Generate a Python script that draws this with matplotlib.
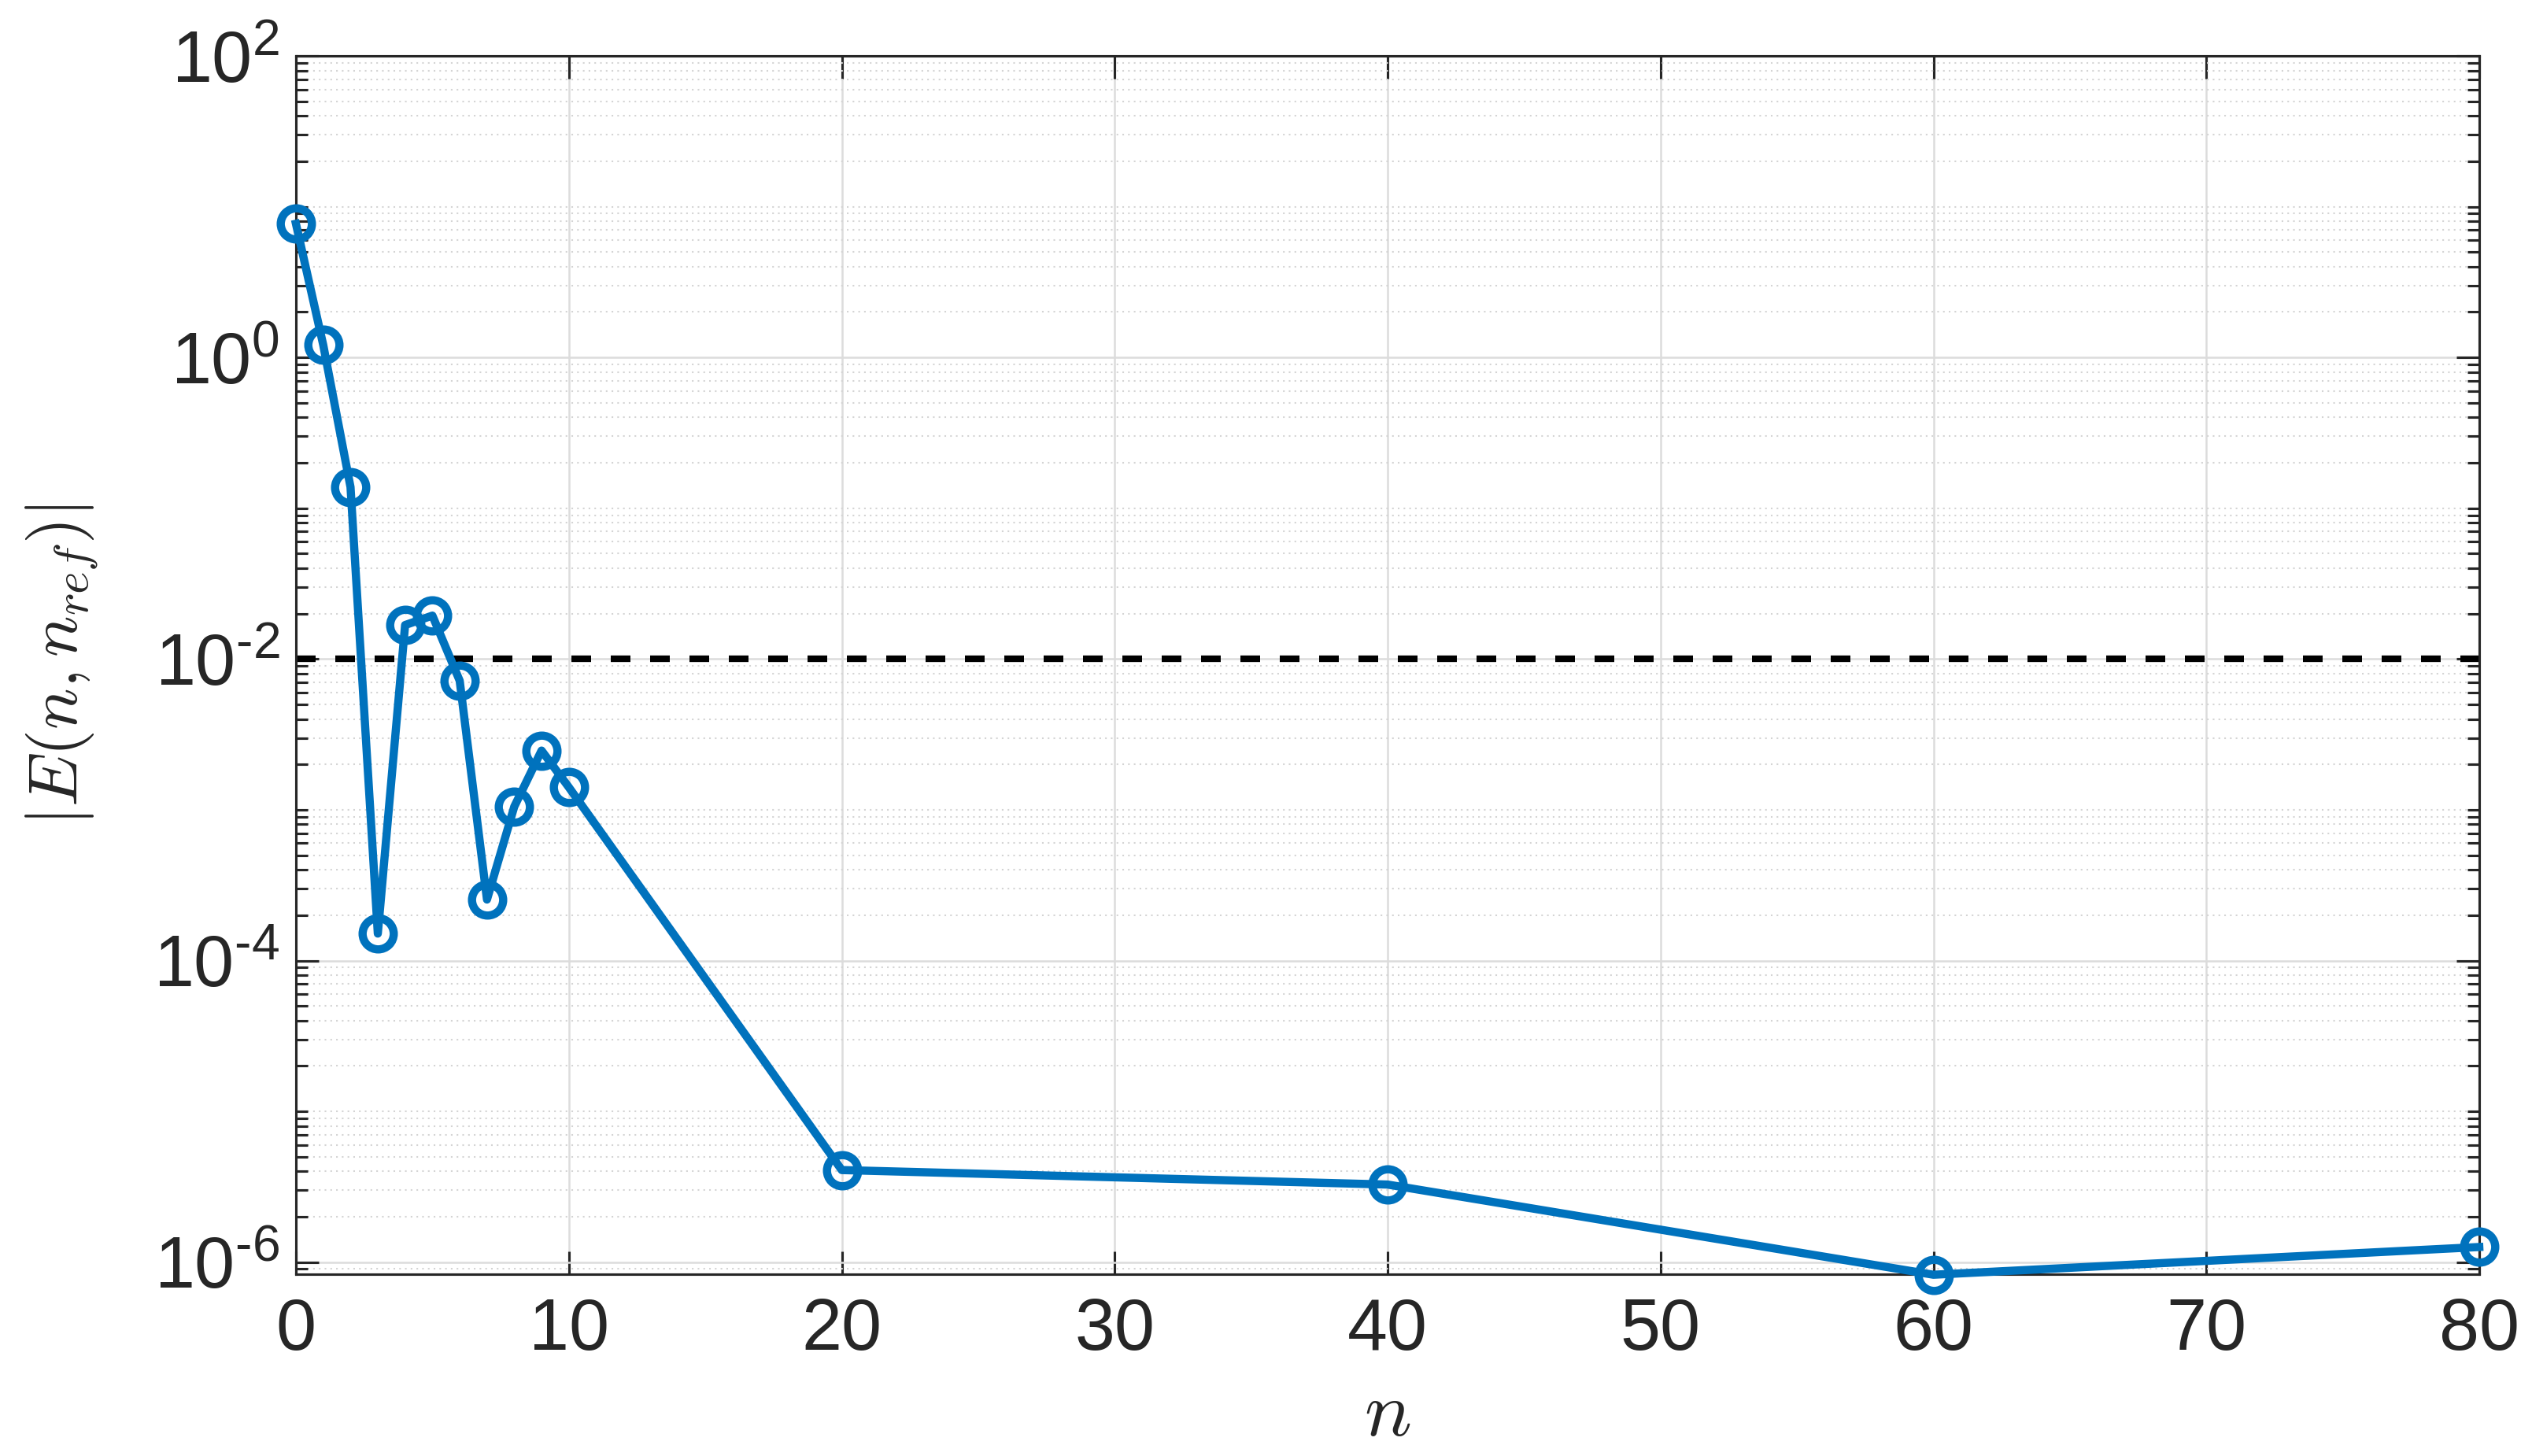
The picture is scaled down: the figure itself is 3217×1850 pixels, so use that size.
import matplotlib
matplotlib.use("Agg")
import matplotlib.pyplot as plt
from matplotlib.ticker import FixedLocator, FuncFormatter, NullLocator
import numpy as np

# Error vs. n
n_values = [0, 1, 2, 3, 4, 5, 6, 7, 8, 9, 10, 20, 40, 60, 80]
err_values = [7.7, 1.21, 0.138, 1.51e-4, 0.0168, 0.0194, 0.00718, 2.54e-4,
              1.05e-3, 2.47e-3, 1.41e-3, 4.08e-6, 3.27e-6, 8.25e-7, 1.26e-6]
tolerance = 1e-2
x_ticks = [0, 10, 20, 30, 40, 50, 60, 70, 80]
y_major_exps = [-6, -4, -2, 0, 2]

plt.rcParams["font.family"] = ["Liberation Sans", "DejaVu Sans"]
plt.rcParams["mathtext.fontset"] = "custom"
plt.rcParams["mathtext.rm"] = "Liberation Sans"
plt.rcParams["mathtext.it"] = "Liberation Sans:italic"


def exp_label(v, pos):
    e = round(np.log10(v))
    # MATLAB prints a short hyphen, not a long minus sign
    s = str(e).replace("-", "\u2010")
    return r"$\mathrm{10^{%s}}$" % s


W, H = 3217, 1850
fig = plt.figure(figsize=(W / 300, H / 300), dpi=300)
ax = fig.add_axes([376 / W, (H - 1619) / H, (3150 - 376) / W, (1619 - 71) / H])

blue = "#0072BD"
axcol = "#262626"

ax.plot(n_values, err_values, "-o", color=blue, lw=2.5, ms=9.5, mew=2.5,
        mfc="none", zorder=3, clip_on=False)
ax.axhline(tolerance, color="black", lw=2.0, dashes=(3, 3), zorder=2)

ax.set_yscale("log")
ax.set_xlim(0, 80)
ax.set_ylim(10 ** -6.08, 1e2)

ax.xaxis.set_major_locator(FixedLocator(x_ticks))
ax.xaxis.set_minor_locator(NullLocator())
ax.yaxis.set_major_locator(FixedLocator([10.0 ** e for e in y_major_exps]))
minor = [k * 10.0 ** e for e in range(-7, 3) for k in range(1, 10)
         if not (k == 1 and e in y_major_exps)]
ax.yaxis.set_minor_locator(FixedLocator(minor))
ax.yaxis.set_major_formatter(FuncFormatter(exp_label))
ax.yaxis.set_minor_formatter(FuncFormatter(lambda v, p: ""))

ax.tick_params(which="both", direction="in", top=True, right=True,
               color=axcol, labelcolor=axcol, width=0.75)
ax.tick_params(which="major", length=7, labelsize=22)
ax.tick_params(axis="x", which="major", pad=7)
ax.tick_params(axis="y", which="major", pad=5)
ax.tick_params(which="minor", length=3.6)
for s in ax.spines.values():
    s.set_color(axcol)
    s.set_linewidth(0.75)

ax.grid(True, which="major", color="#dcdcdc", lw=0.6, ls="-", zorder=0)
ax.grid(True, which="minor", axis="y", color="#d4d4d4", lw=0.5, ls=(0, (1, 2.5)), zorder=0)
ax.set_axisbelow(True)

ax.set_xlabel(r"$n$", fontsize=24, color=axcol, math_fontfamily="cm", labelpad=4)
ax.set_ylabel(r"$|E(n,n_{ref})|$", fontsize=21, color=axcol, math_fontfamily="cm", labelpad=16)

fig.savefig("out.png", dpi=300)
